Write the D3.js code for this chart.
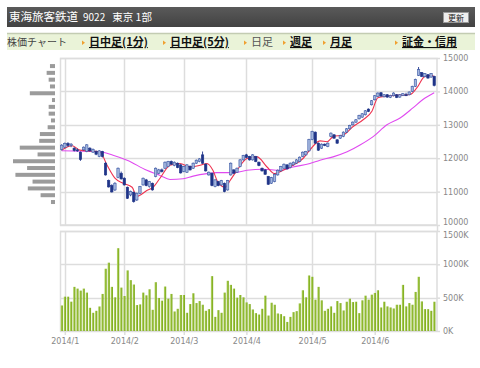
<!DOCTYPE html>
<html>
<head>
<meta charset="utf-8">
<script src="https://cdn.jsdelivr.net/npm/d3@7"></script>
<style>
  body { margin: 0; background: #fff; }
  svg { display: block; }
  text { font-family: "Noto Sans CJK JP", sans-serif; }
  .ax text { font-family: "DejaVu Sans", sans-serif; font-size: 8px; fill: #888; }
</style>
</head>
<body>
<svg id="chart" width="480" height="368"></svg>
<script>
// daily candles, 2013/12/30 - 2014/6/27 : [open, high, low, close]
var candles = [
  [12260,12420,12230,12390],[12330,12470,12300,12440],[12440,12480,12340,12380],[12380,12450,12330,12420],
  [12300,12330,12200,12230],[12250,12290,12190,12220],[12180,12200,11920,11960],[12250,12350,12230,12330],
  [12200,12420,12180,12400],[12300,12330,12200,12220],[12180,12290,12160,12260],[12200,12230,12090,12120],
  [12050,12240,12030,12220],[12200,12220,12020,12050],[11850,11880,11480,11500],[11330,11360,11120,11140],
  [11180,11220,10970,10990],[11050,11280,11020,11250],[11430,11720,11400,11700],[11550,11600,11360,11380],
  [11400,11430,11180,11200],[11130,11150,10780,10800],[10900,11030,10860,11000],[10980,11000,10670,10700],
  [10750,10970,10720,10950],[10950,11170,10920,11150],[11200,11420,11180,11400],[11350,11380,11160,11180],
  [11150,11320,11120,11300],[11250,11270,11030,11050],[11450,11720,11430,11700],[11550,11680,11520,11650],
  [11650,11690,11570,11600],[11700,11900,11680,11880],[11750,11920,11730,11900],[11900,11930,11800,11820],
  [11780,11900,11760,11880],[11850,11870,11700,11720],[11800,11820,11540,11560],[11600,11770,11580,11750],
  [11580,11820,11560,11800],[11760,11780,11630,11650],[11700,11870,11680,11850],[11850,11960,11830,11940],
  [11900,12000,11880,11980],[12100,12200,11830,11850],[11820,11840,11600,11620],[11500,11600,11480,11580],
  [11550,11570,11160,11180],[11150,11370,11130,11350],[11300,11320,11160,11180],[11200,11350,11180,11330],
  [11250,11270,10980,11000],[11050,11350,11030,11330],[11500,11870,11480,11850],[11650,11670,11530,11550],
  [11580,11720,11560,11700],[11750,11970,11730,11950],[11950,12100,11930,12080],[12100,12130,12000,12020],
  [12050,12070,11930,11950],[11950,12120,11930,12100],[12050,12070,11880,11900],[11880,11900,11760,11780],
  [11700,11720,11600,11620],[11650,11670,11500,11520],[11450,11470,11200,11220],[11250,11440,11230,11420],
  [11300,11540,11280,11520],[11500,11660,11480,11640],[11620,11770,11600,11750],[11700,11840,11680,11820],
  [11800,11820,11660,11680],[11720,11870,11700,11850],[11800,11900,11780,11880],[11850,11970,11830,11950],
  [11900,12050,11880,12030],[12050,12200,12030,12180],[12100,12220,12080,12200],[12220,12580,12200,12560],
  [12560,12820,12540,12800],[12780,12800,12430,12450],[12450,12470,12220,12240],[12300,12440,12280,12420],
  [12420,12440,12360,12380],[12350,12470,12330,12450],[12650,12770,12630,12750],[12700,12720,12580,12600],
  [12550,12570,12430,12450],[12600,12700,12580,12680],[12650,12800,12630,12780],[12780,12900,12760,12880],
  [12880,13000,12860,12980],[13000,13100,12980,13080],[13080,13170,13060,13150],[13180,13300,13160,13280],
  [13230,13350,13210,13330],[13300,13440,13280,13420],[13470,13490,13380,13400],[13600,13740,13580,13720],
  [13750,13890,13730,13870],[13850,13970,13830,13950],[13960,13980,13840,13860],[13840,13920,13820,13900],
  [13900,13920,13810,13830],[13820,13900,13800,13880],[13870,13970,13850,13950],[13900,13920,13800,13820],
  [13830,13920,13810,13900],[13880,13950,13860,13930],[13900,13960,13860,13880],[13900,14000,13880,13980],
  [14000,14170,13980,14150],[14150,14380,14130,14360],[14480,14730,14460,14650],[14560,14580,14430,14450],
  [14440,14550,14420,14530],[14500,14520,14380,14400],[14430,14550,14410,14530],[14450,14470,14150,14180]
];

// daily volume in thousands of shares
var volumes = [
  383,515,515,440,662,636,606,636,576,348,273,303,368,556,934,1025,662,505,1242,651,525,909,763,697,389,399,576,535,626,318,732,495,
  455,667,485,556,293,333,540,540,273,404,566,419,449,394,303,328,823,212,313,273,576,753,692,636,500,540,505,429,404,323,268,247,333,530,232,424,394,263,253,222,136,212,283,298,414,
  611,505,833,813,470,662,460,303,333,369,273,449,419,308,439,485,434,439,268,460,530,470,545,571,611,353,439,369,353,338,394,394,692,369,419,394,586,813,444,328,328,303,439
];

// moving averages: [day index, price]
var maShort = [[0,12243],[3.3,12373],[5.8,12243],[12.2,12191],[14.5,11788],[17,11403],[19.6,11252],[22.5,11130],
  [24,10858],[27.2,11031],[29.2,11130],[31.4,11400],[34.6,11788],[37.8,11840],[41,11737],[44.2,11788],[46.4,11840],
  [48.3,11637],[49.9,11282],[52.2,11130],[53.8,11334],[56,11637],[59.2,11991],[62.4,12040],[65.6,11737],[68.1,11537],
  [70.7,11637],[73.9,11788],[77.1,11991],[79.3,12250],[82.5,12520],[84.8,12494],[86.7,12646],[89.9,12697],[93.1,12949],
  [96.3,13152],[99.1,13403],[101,13809],[103.9,13858],[108.1,13888],[111.3,13909],[113.5,14112],[116,14450],[118.3,14480],[119,14420]];
var maLong = [[0,12222],[12.2,12191],[16.4,12091],[20.9,11940],[27.2,11637],[31.4,11485],[34.6,11364],[38.8,11385],
  [42,11464],[46.4,11537],[49.6,11567],[54.7,11567],[59.2,11637],[64.3,11667],[69.7,11637],[73.9,11737],[79.3,11840],
  [82.5,11940],[86.7,12040],[91.2,12191],[95.3,12394],[99.5,12646],[103.9,13000],[108.1,13203],[112.2,13506],[115.4,13758],[119,13961]];

// volume by price band (band centre price, relative volume)
var bandPrices = [14758,14555,14351,14148,13944,13741,13537,13334,13130,12927,12723,12520,12316,12113,11909,11706,11502,11299,11095,10892,10688];
var bandVolumes = [5,8.3,6.3,5,25,3,6.3,6.3,4,7.3,15,15.7,35,17.3,41.7,27.7,39.3,22.3,27,14.3,4];

var priceTicks = [10000,11000,12000,13000,14000,15000];
var volumeTicks = [0,500,1000,1500];
var monthIdx = [1,20,39,59,80,100];
var monthLabels = ["2014/1","2014/2","2014/3","2014/4","2014/5","2014/6"];

var navLabels = ["日中足(1分)","日中足(5分)","日足","週足","月足","証金・信用"];
var navLinks = [true,true,false,true,true,true];

var svg = d3.select("#chart");

// header bar
var hg = svg.append("defs").append("linearGradient").attr("id","hdr").attr("x1",0).attr("x2",0).attr("y1",0).attr("y2",1);
hg.append("stop").attr("offset","0").attr("stop-color","#5a5a5a");
hg.append("stop").attr("offset","1").attr("stop-color","#424242");
svg.append("rect").attr("x",7).attr("y",7).attr("width",468).attr("height",20).attr("fill","url(#hdr)");
var title = svg.append("text").attr("x",9).attr("y",21).attr("fill","#fff").style("font-size","11.5px");
title.append("tspan").text("東海旅客鉄道");
title.append("tspan").attr("dx",5).style("font-size","10px").text("9022");
title.append("tspan").attr("dx",7).style("font-size","10.5px").text("東京 1部");
svg.append("rect").attr("x",443.5).attr("y",12.5).attr("width",25).attr("height",10)
  .attr("fill","#eeeeee").attr("stroke","#999").attr("stroke-width",1);
svg.append("text").attr("x",456).attr("y",20.5).attr("text-anchor","middle").attr("fill","#222")
  .style("font-size","8px").text("更新");

// nav bar
svg.append("rect").attr("x",7).attr("y",33).attr("width",468).attr("height",17).attr("fill","#eaf3d8");
svg.append("line").attr("x1",7).attr("x2",475).attr("y1",33.5).attr("y2",33.5).attr("stroke","#c3ccb2").attr("stroke-width",1.5);
svg.append("text").attr("x",7).attr("y",46).attr("fill","#444").style("font-size","10px").text("株価チャート");
var navX = [82,163,244,283,323,395];
navLabels.forEach(function(lab, i){
  svg.append("path").attr("d","M"+navX[i]+",40.5 L"+(navX[i]+3)+",42.7 L"+navX[i]+",44.9 Z").attr("fill","#f0a030");
  svg.append("text").attr("x",navX[i]+7).attr("y",46).text(lab)
    .style("font-size","11px")
    .style("font-weight", navLinks[i] ? "bold" : "normal")
    .attr("fill", navLinks[i] ? "#111" : "#555")
    .style("text-decoration", navLinks[i] ? "underline" : "none");
});

// scales
var x = d3.scaleLinear().domain([0, candles.length - 1]).range([61.7, 434.2]);
var yP = d3.scaleLinear().domain([10000, 15000]).range([225, 58]);
var yV = d3.scaleLinear().domain([0, 1500]).range([331, 231]);
var bw = d3.scaleLinear().domain([0, d3.max(bandVolumes)]).range([0, 42]);

var grid = "#dddddd";

// price panel grid
svg.append("g").selectAll("line").data(priceTicks).join("line")
  .attr("x1",60).attr("x2",437).attr("y1",d => Math.round(yP(d))+0.5).attr("y2",d => Math.round(yP(d))+0.5)
  .attr("stroke",grid).attr("stroke-width",1.5);
svg.append("g").selectAll("line").data(monthIdx).join("line")
  .attr("x1",d => Math.round(x(d))+0.5).attr("x2",d => Math.round(x(d))+0.5).attr("y1",58).attr("y2",225)
  .attr("stroke",grid).attr("stroke-width",1.5);
svg.append("rect").attr("x",60.5).attr("y",58.5).attr("width",376.5).attr("height",166.5)
  .attr("fill","none").attr("stroke",grid).attr("stroke-width",1.5);

// volume panel grid
svg.append("g").selectAll("line").data(volumeTicks).join("line")
  .attr("x1",60).attr("x2",437).attr("y1",d => Math.round(yV(d))+0.5).attr("y2",d => Math.round(yV(d))+0.5)
  .attr("stroke",grid).attr("stroke-width",1.5);
svg.append("g").selectAll("line").data(monthIdx).join("line")
  .attr("x1",d => Math.round(x(d))+0.5).attr("x2",d => Math.round(x(d))+0.5).attr("y1",231).attr("y2",331)
  .attr("stroke",grid).attr("stroke-width",1.5);
svg.append("rect").attr("x",60.5).attr("y",231.5).attr("width",376.5).attr("height",99.5)
  .attr("fill","none").attr("stroke",grid).attr("stroke-width",1.5);
svg.append("line").attr("x1",437.5).attr("x2",437.5).attr("y1",225).attr("y2",231).attr("stroke",grid).attr("stroke-width",1.5);

// axes
var ap = svg.append("g").attr("class","ax").attr("transform","translate(437,0)")
  .call(d3.axisRight(yP).tickValues(priceTicks).tickSize(3).tickPadding(3).tickFormat(d3.format("d")));
var av = svg.append("g").attr("class","ax").attr("transform","translate(437,0)")
  .call(d3.axisRight(yV).tickValues(volumeTicks).tickSize(3).tickPadding(3).tickFormat(d => d + "K"));
var ax = svg.append("g").attr("class","ax").attr("transform","translate(0,331)")
  .call(d3.axisBottom(x).tickValues(monthIdx).tickSize(4).tickPadding(3).tickFormat((d,i) => monthLabels[i]));
svg.selectAll(".ax .domain").remove();
svg.selectAll(".ax .tick line").attr("stroke",grid).attr("stroke-width",1.5);
// the bottom price label and the top volume label sit on touching lines: nudge apart
ap.selectAll(".tick text").filter(d => d === 10000).attr("dy","0.1em");
av.selectAll(".tick text").filter(d => d === 1500).attr("dy","0.62em");
ap.selectAll(".tick text").filter(d => d === 10000).attr("y",-1);
av.selectAll(".tick text").filter(d => d === 1500).attr("y",1.5);

// volume by price
svg.append("g").selectAll("rect").data(bandPrices).join("rect")
  .attr("x",(d,i) => 55 - bw(bandVolumes[i])).attr("width",(d,i) => bw(bandVolumes[i]))
  .attr("y",d => yP(d) - 2).attr("height",4).attr("fill","#9b9b9b");

// volume bars
var vg = svg.select("defs").append("linearGradient").attr("id","vol");
vg.append("stop").attr("offset","0").attr("stop-color","#c4dc8a");
vg.append("stop").attr("offset","0.45").attr("stop-color","#95bf35");
vg.append("stop").attr("offset","1").attr("stop-color","#77a416");
svg.append("g").selectAll("rect").data(volumes).join("rect")
  .attr("x",(d,i) => x(i) - 1.1).attr("width",2.3)
  .attr("y",d => yV(d)).attr("height",d => yV(0) - yV(d))
  .attr("fill","url(#vol)");

// moving averages
var line = d3.line().x(d => x(d[0])).y(d => yP(d[1])).curve(d3.curveMonotoneX);
svg.append("path").datum(maLong).attr("d",line).attr("fill","none").attr("stroke","#e04af0").attr("stroke-width",1.1);
svg.append("path").datum(maShort).attr("d",line).attr("fill","none").attr("stroke","#ee3350").attr("stroke-width",1.1);

// candles
var cg = svg.append("g").selectAll("g").data(candles).join("g");
cg.append("line")
  .attr("x1",(d,i) => x(i)).attr("x2",(d,i) => x(i))
  .attr("y1",d => yP(d[1])).attr("y2",d => yP(d[2]))
  .attr("stroke","#23388f").attr("stroke-width",0.9);
cg.append("rect")
  .attr("x",(d,i) => x(i) - 1.2).attr("width",2.4)
  .attr("y",d => yP(Math.max(d[0], d[3])))
  .attr("height",d => Math.max(1, Math.abs(yP(d[0]) - yP(d[3]))))
  .attr("fill",d => d[3] >= d[0] ? "#a3b6de" : "#1f3488")
  .attr("stroke",d => d[3] >= d[0] ? "#3d5aa6" : "#1f3488")
  .attr("stroke-width",0.6);
</script>
</body>
</html>
